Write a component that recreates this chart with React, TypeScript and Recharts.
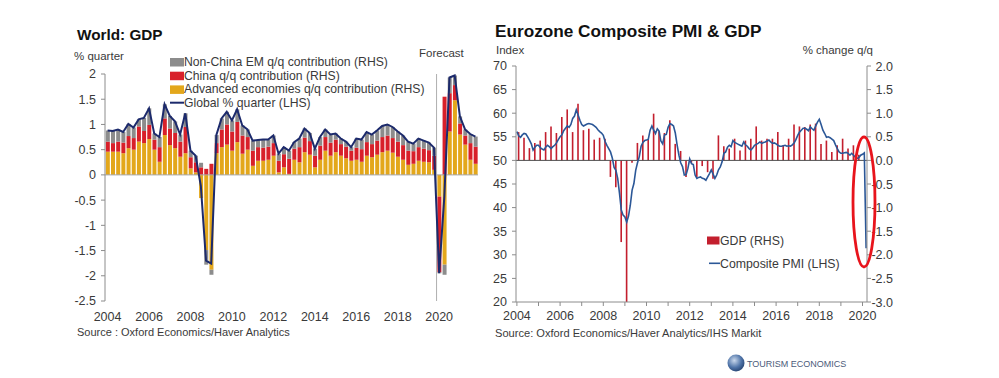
import React from 'react';
import { ComposedChart, Bar, Line, XAxis, YAxis, ReferenceLine } from 'recharts';

const FONT = '"Liberation Sans", Arial, sans-serif';

// ---------- World: GDP (quarterly 2004Q1 - 2021Q4) ----------
const worldYears = [2004, 2005, 2006, 2007, 2008, 2009, 2010, 2011, 2012, 2013, 2014, 2015, 2016, 2017, 2018, 2019, 2020, 2021];
const quarterNames = ['Q1', 'Q2', 'Q3', 'Q4'];
const worldYearTicks = ['2004', '2006', '2008', '2010', '2012', '2014', '2016', '2018', '2020'];

// advanced economies q/q contribution (RHS)
const advancedContrib = [
  0.46, 0.46, 0.46, 0.43, 0.53, 0.50, 0.66, 0.63, 0.71, 0.50, 0.26, 0.79,
  0.59, 0.53, 0.36, 0.43, 0.13, 0.05, -0.46, -1.49, -1.88, 0.43, 0.55, 0.60,
  0.48, 0.65, 0.42, 0.50, 0.18, 0.28, 0.28, 0.30, 0.38, 0.05, 0.15, 0.02,
  0.30, 0.25, 0.45, 0.40, 0.15, 0.30, 0.48, 0.38, 0.45, 0.38, 0.33, 0.28,
  0.30, 0.26, 0.38, 0.35, 0.40, 0.45, 0.48, 0.44, 0.36, 0.30, 0.20, 0.22,
  0.28, 0.26, 0.25, 0.10, -0.43, -1.78, 0.86, 1.48, 0.80, 0.60, 0.30, 0.22,
];
// China q/q contribution (RHS)
const chinaContrib = [
  0.20, 0.17, 0.20, 0.21, 0.24, 0.23, 0.30, 0.24, 0.28, 0.20, 0.29, 0.33,
  0.33, 0.30, 0.30, 0.52, 0.22, 0.20, 0.15, 0.12, 0.22, 0.20, 0.35, 0.40,
  0.38, 0.40, 0.36, 0.25, 0.30, 0.27, 0.26, 0.26, 0.25, 0.23, 0.26, 0.30,
  0.22, 0.30, 0.29, 0.27, 0.23, 0.28, 0.27, 0.26, 0.25, 0.23, 0.23, 0.20,
  0.24, 0.25, 0.27, 0.26, 0.28, 0.30, 0.30, 0.29, 0.30, 0.29, 0.28, 0.25,
  0.27, 0.26, 0.24, 0.28, -1.50, 1.55, 0.76, 0.30, 0.22, 0.18, 0.33, 0.34,
];
// non-China EM q/q contribution (RHS)
const emContrib = [
  0.22, 0.24, 0.24, 0.21, 0.24, 0.21, 0.14, 0.26, 0.33, 0.12, 0.20, 0.28,
  0.25, 0.23, 0.14, 0.27, 0.13, 0.13, 0.09, -0.29, -0.10, 0.16, 0.22, 0.25,
  0.22, 0.25, 0.20, 0.15, 0.20, 0.14, 0.16, 0.14, 0.15, 0.14, 0.14, 0.16,
  0.13, 0.17, 0.18, 0.16, 0.14, 0.17, 0.15, 0.16, 0.12, 0.11, 0.10, 0.07,
  0.18, 0.19, 0.20, 0.19, 0.20, 0.22, 0.22, 0.22, 0.20, 0.19, 0.18, 0.15,
  0.17, 0.16, 0.15, 0.16, -0.02, -0.20, 0.31, 0.19, 0.14, 0.12, 0.18, 0.20,
];
// global % quarter (LHS)
const globalGdp = [
  0.88, 0.87, 0.90, 0.85, 1.01, 0.94, 1.10, 1.13, 1.32, 0.82, 0.75, 1.40,
  1.17, 1.06, 0.80, 1.22, 0.48, 0.38, -0.22, -1.70, -1.76, 0.79, 1.12, 1.25,
  1.08, 1.30, 0.98, 0.90, 0.68, 0.69, 0.70, 0.70, 0.78, 0.42, 0.55, 0.48,
  0.65, 0.72, 0.92, 0.83, 0.52, 0.75, 0.90, 0.80, 0.82, 0.72, 0.66, 0.55,
  0.72, 0.70, 0.85, 0.80, 0.88, 0.97, 1.00, 0.95, 0.86, 0.78, 0.66, 0.62,
  0.72, 0.68, 0.64, 0.54, -1.95, -0.43, 1.93, 1.97, 1.16, 0.90, 0.81, 0.76,
];

// ---------- Eurozone Composite PMI (monthly 2004-01 .. 2020-03) & GDP (quarterly) ----------
const monthNames = ['01', '02', '03', '04', '05', '06', '07', '08', '09', '10', '11', '12'];
const pmi = [
  56.1, 55.2, 54.9, 55.4, 55.7, 55.6, 55.0, 54.3, 53.5, 52.2, 52.8, 53.2,
  53.2, 52.7, 52.4, 52.2, 52.8, 53.2, 52.9, 52.5, 52.9, 53.2, 53.7, 54.4,
  55.0, 55.4, 56.3, 56.8, 57.3, 57.0, 57.6, 58.9, 59.4, 60.7, 59.6, 58.5,
  57.6, 57.3, 57.5, 57.7, 57.8, 57.7, 57.6, 57.3, 57.0, 56.5, 56.1, 55.8,
  55.3, 54.0, 53.2, 52.5, 51.8, 50.5, 48.5, 47.9, 46.2, 43.0, 39.5, 38.4,
  38.0, 36.9, 38.2, 40.5, 43.7, 45.1, 47.9, 49.5, 50.8, 53.0, 53.8, 54.2,
  54.3, 54.5, 56.4, 57.3, 56.4, 55.7, 56.7, 56.2, 54.1, 53.5, 55.4, 55.5,
  57.0, 57.8, 57.6, 57.3, 55.8, 53.3, 51.1, 49.5, 48.7, 46.9, 47.0, 48.3,
  50.3, 49.3, 49.1, 46.9, 46.2, 46.4, 46.5, 46.2, 46.1, 45.8, 46.5, 47.2,
  48.0, 47.1, 46.2, 46.9, 48.0, 48.6, 49.7, 51.5, 51.8, 52.8, 53.2, 52.9,
  54.2, 53.8, 53.6, 53.4, 53.2, 53.0, 53.9, 53.3, 53.0, 52.5, 52.2, 52.6,
  53.2, 53.4, 53.6, 53.9, 53.6, 53.8, 53.9, 54.1, 54.3, 53.9, 53.6, 53.7,
  53.5, 53.2, 53.0, 53.0, 53.1, 53.2, 53.0, 53.1, 53.0, 53.3, 53.7, 54.4,
  55.3, 56.0, 56.4, 56.8, 56.8, 56.6, 56.3, 57.1, 56.7, 56.4, 57.3, 58.1,
  58.7, 57.6, 56.4, 55.7, 54.9, 55.0, 54.8, 54.5, 54.2, 53.3, 52.5, 51.8,
  51.5, 51.5, 51.6, 51.7, 51.5, 51.1, 51.5, 51.1, 50.7, 50.4, 50.6, 51.1,
  51.3, 51.6, 31.4,
];
// GDP % change q/q, 2004Q1 .. 2019Q4
const euroGdp = [
  0.60, 0.48, 0.26, 0.37,
  0.42, 0.60, 0.72, 0.58,
  0.92, 1.08, 0.60, 1.20,
  0.64, 0.67, 0.44, 0.48,
  0.46, -0.35, -0.57, -1.73,
  -3.00, -0.05, 0.37, 0.53,
  0.45, 0.99, 0.62, 0.58,
  0.85, 0.35, 0.20, -0.35,
  -0.05, -0.35, -0.12, -0.25,
  -0.39, 0.53, 0.30, 0.25,
  0.46, 0.21, 0.42, 0.46,
  0.72, 0.42, 0.46, 0.46,
  0.60, 0.32, 0.46, 0.76,
  0.72, 0.71, 0.76, 0.78,
  0.35, 0.42, 0.18, 0.32,
  0.46, 0.25, 0.32, 0.12,
];

const pmiTicks = [20, 25, 30, 35, 40, 45, 50, 55, 60, 65, 70];
const gdpTicks = [-3, -2.5, -2, -1.5, -1, -0.5, 0, 0.5, 1, 1.5, 2];
const worldTicks = [-2.5, -2, -1.5, -1, -0.5, 0, 0.5, 1, 1.5, 2];

const worldData = globalGdp.map((g, i) => ({
  q: `${worldYears[Math.floor(i / 4)]}${quarterNames[i % 4]}`,
  ae: advancedContrib[i],
  cn: chinaContrib[i],
  em: emContrib[i],
  global: g,
}));

const euroData = pmi.map((v, i) => ({
  m: `${2004 + Math.floor(i / 12)}-${monthNames[i % 12]}`,
  pmi: v,
  gdp: i % 3 === 1 ? euroGdp[Math.floor(i / 3)] ?? null : null,
}));
const euroYearTicks = euroData.filter((d) => d.m.endsWith('-01')).map((d) => d.m);

const AXIS = '#8c8c8c';
const TXT = '#3a3a3a';
const tickStyle = { fontSize: 12.5, fill: TXT, fontFamily: FONT };

const RightTick = (props: any) => {
  const { x, y, payload } = props;
  return (
    <text x={x + 20} y={y} dy={4.5} textAnchor="end" fontSize={12.5} fill={TXT} fontFamily={FONT}>
      {Number(payload.value).toFixed(1)}
    </text>
  );
};

const App: React.FC = () => {
  return (
    <div style={{ position: 'absolute', left: 0, top: 0, width: 999, height: 378, background: '#fff', fontFamily: FONT }}>
      {/* World GDP */}
      <div style={{ position: 'absolute', left: 0, top: 0 }}>
        <ComposedChart
          width={490}
          height={340}
          data={worldData}
          stackOffset="sign"
          barCategoryGap="16%"
          margin={{ top: 74, right: 12, left: 45, bottom: 19 }}
        >
          <XAxis
            dataKey="q"
            height={20}
            ticks={worldYearTicks.map((y) => `${y}Q1`)}
            interval={0}
            tickFormatter={(v: string) => v.slice(0, 4)}
            axisLine={false}
            tickLine={false}
            tickSize={4}
            tickMargin={7}
            tick={tickStyle}
          />
          <YAxis
            domain={[-2.5, 2]}
            ticks={worldTicks}
            interval={0}
            width={60}
            stroke={AXIS}
            tickSize={4}
            tickMargin={5}
            tick={tickStyle}
          />
          <ReferenceLine y={0} stroke="#a6a6a6" />
          <Bar dataKey="ae" stackId="w" fill="#E3A71B" isAnimationActive={false} />
          <Bar dataKey="cn" stackId="w" fill="#D8202A" isAnimationActive={false} />
          <Bar dataKey="em" stackId="w" fill="#8C8C8C" isAnimationActive={false} />
          <ReferenceLine x="2020Q1" position="start" stroke="#b0b0b0" />
          <Line dataKey="global" type="linear" stroke="#1C2A6C" strokeWidth={2} dot={false} isAnimationActive={false} />
        </ComposedChart>
      </div>

      {/* Eurozone PMI & GDP */}
      <div style={{ position: 'absolute', left: 470, top: 0 }}>
        <ComposedChart
          width={440}
          height={340}
          data={euroData}
          margin={{ top: 66, right: 13, left: 0, bottom: 18 }}
        >
          <XAxis
            dataKey="m"
            height={20}
            ticks={euroYearTicks}
            interval={0}
            tickFormatter={(v: string) => (Number(v.slice(0, 4)) % 2 === 0 ? v.slice(0, 4) : '')}
            stroke={AXIS}
            tickSize={4}
            tickMargin={5}
            tick={tickStyle}
          />
          <YAxis
            yAxisId="pmi"
            domain={[20, 70]}
            ticks={pmiTicks}
            interval={0}
            width={46}
            stroke={AXIS}
            tickSize={4}
            tickMargin={5}
            tick={tickStyle}
          />
          <YAxis
            yAxisId="gdp"
            orientation="right"
            domain={[-3, 2]}
            ticks={gdpTicks}
            interval={0}
            width={30}
            stroke={AXIS}
            tickSize={4}
            tickMargin={2}
            tick={<RightTick />}
          />
          <Bar yAxisId="gdp" dataKey="gdp" fill="#C31F2E" barSize={2} isAnimationActive={false} />
          <ReferenceLine yAxisId="gdp" y={0} stroke="#505050" />
          <Line yAxisId="pmi" dataKey="pmi" type="linear" stroke="#2B5797" strokeWidth={1.6} dot={false} isAnimationActive={false} />
        </ComposedChart>
      </div>

      {/* titles, legends, notes */}
      <svg width={999} height={378} style={{ position: 'absolute', left: 0, top: 0, pointerEvents: 'none' }} fontFamily={FONT}>
        <defs>
          <radialGradient id="globe" cx="40%" cy="35%" r="70%">
            <stop offset="0%" stopColor="#c9d8ec" />
            <stop offset="60%" stopColor="#4f74a8" />
            <stop offset="100%" stopColor="#25426f" />
          </radialGradient>
        </defs>

        <text x={77} y={40} fontSize={15.3} fontWeight="bold" fill="#111">World: GDP</text>
        <text x={74} y={59.5} fontSize={11.5} fill={TXT}>% quarter</text>
        <text x={419} y={57} fontSize={11.5} fill={TXT}>Forecast</text>

        <rect x={170} y={58} width={14} height={8.5} fill="#8C8C8C" />
        <text x={184} y={65.8} fontSize={12.2} fill={TXT}>Non-China EM q/q contribution (RHS)</text>
        <rect x={170} y={71.7} width={14} height={8.5} fill="#D8202A" />
        <text x={184} y={79.5} fontSize={12.2} fill={TXT}>China q/q contribution (RHS)</text>
        <rect x={170} y={85.4} width={14} height={8.5} fill="#E3A71B" />
        <text x={184} y={93.2} fontSize={12.2} fill={TXT}>Advanced economies q/q contribution (RHS)</text>
        <line x1={170} x2={184} y1={102.7} y2={102.7} stroke="#1C2A6C" strokeWidth={2} />
        <text x={184} y={106.9} fontSize={12.2} fill={TXT}>Global % quarter (LHS)</text>

        <text x={77} y={335.5} fontSize={11} fill={TXT}>Source : Oxford Economics/Haver Analytics</text>

        <text x={495} y={37} fontSize={17.2} fontWeight="bold" fill="#111">Eurozone Composite PMI &amp; GDP</text>
        <text x={496} y={54} fontSize={11.5} fill={TXT}>Index</text>
        <text x={873} y={54} fontSize={11.5} fill={TXT} textAnchor="end">% change q/q</text>

        <rect x={707} y={236.5} width={12.5} height={8} fill="#C31F2E" />
        <text x={720} y={244.8} fontSize={12.3} fill={TXT}>GDP (RHS)</text>
        <line x1={709} x2={720} y1={263.3} y2={263.3} stroke="#2B5797" strokeWidth={1.6} />
        <text x={720} y={267.5} fontSize={12.3} fill={TXT}>Composite PMI (LHS)</text>

        <text x={495} y={336.5} fontSize={11.1} fill={TXT}>Source: Oxford Economics/Haver Analytics/IHS Markit</text>

        <ellipse cx={864} cy={202} rx={11} ry={65} fill="none" stroke="#E8141C" strokeWidth={2.8} />

        <circle cx={736} cy={363} r={8.5} fill="url(#globe)" />
        <text x={747} y={367.3} fontSize={9} fill="#4C5B7A">TOURISM ECONOMICS</text>
      </svg>
    </div>
  );
};

export default App;
